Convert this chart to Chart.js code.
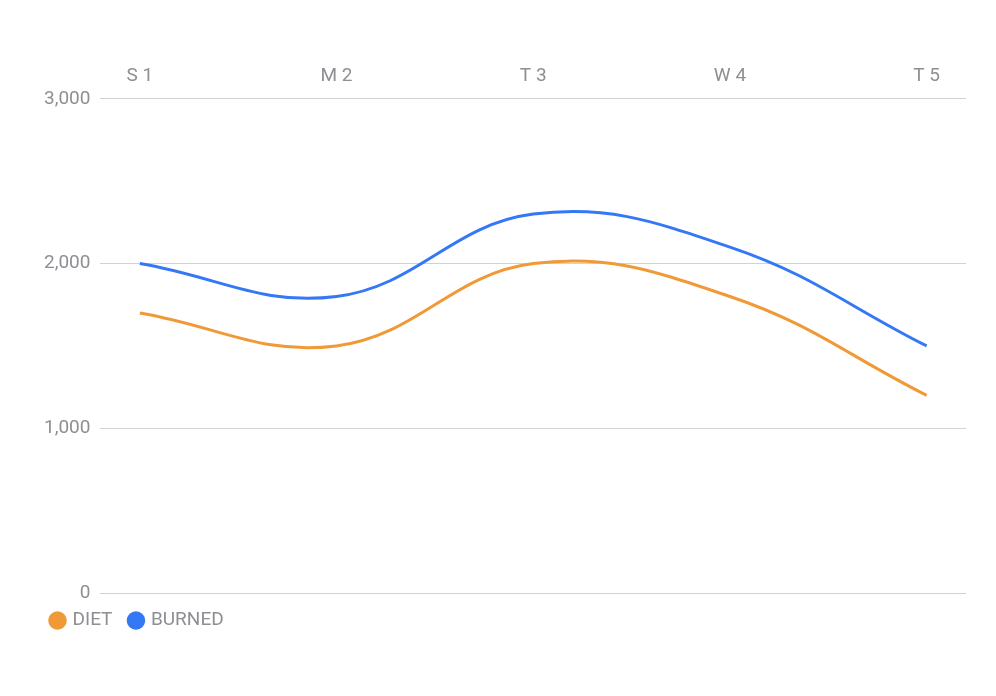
<!DOCTYPE html>
<html>
<head>
<meta charset="utf-8">
<script src="https://cdn.jsdelivr.net/npm/chart.js@4"></script>
<style>
  html, body { margin: 0; padding: 0; background: #fff; }
  #wrap { width: 996px; height: 696px; }
</style>
</head>
<body>
<div id="wrap"><canvas id="chart"></canvas></div>
<script>
const days = ["S 1", "M 2", "T 3", "W 4", "T 5"];
const diet = [1700, 1500, 2000, 1800, 1200];
const burned = [2000, 1800, 2300, 2100, 1500];
const yTicks = [0, 1000, 2000, 3000];

const gray = "#8e8e93";
const toPoints = (arr) => arr.map((v, i) => ({ x: i, y: v }));

new Chart(document.getElementById("chart"), {
    type: "line",
    data: {
        datasets: [
            { label: "DIET", data: toPoints(diet), borderColor: "#f09a37", backgroundColor: "#f09a37",
              borderWidth: 3, tension: 0.4, pointRadius: 0 },
            { label: "BURNED", data: toPoints(burned), borderColor: "#3478f6", backgroundColor: "#3478f6",
              borderWidth: 3, tension: 0.4, pointRadius: 0 },
        ],
    },
    options: {
        responsive: true,
        maintainAspectRatio: false,
        animation: false,
        layout: { padding: { top: 62, left: 34, right: 30, bottom: 56 } },
        scales: {
            x: {
                type: "linear",
                position: "top",
                min: -0.2,
                max: 4.2,
                afterBuildTicks(axis) { axis.ticks = days.map((_, i) => ({ value: i })); },
                ticks: { color: gray, font: { family: "Roboto", size: 19 }, callback: (v) => days[v] },
                grid: { display: false },
                border: { display: false },
            },
            y: {
                min: 0,
                max: 3000,
                afterBuildTicks(axis) { axis.ticks = yTicks.map((v) => ({ value: v })); },
                ticks: { color: gray, font: { family: "Roboto", size: 19 }, padding: 10,
                         callback: (v) => v.toLocaleString("en-US") },
                grid: { color: "#d1d1d6", drawTicks: false },
                border: { display: false },
            },
        },
        plugins: {
            legend: {
                position: "bottom",
                align: "start",
                labels: { color: gray, usePointStyle: true, pointStyle: "circle", boxWidth: 11, boxHeight: 11,
                          font: { family: "Roboto", size: 19 }, padding: 18 },
            },
            tooltip: { enabled: false },
        },
    },
});
</script>
</body>
</html>
